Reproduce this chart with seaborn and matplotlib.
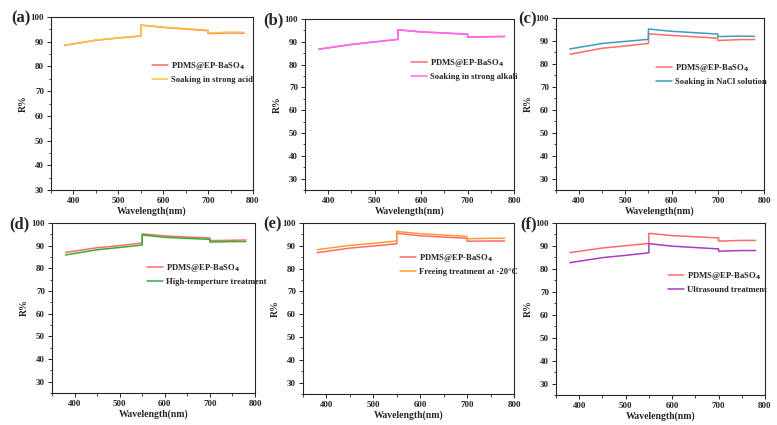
import matplotlib
matplotlib.use('Agg')
import matplotlib.pyplot as plt
from matplotlib.ticker import MultipleLocator
import seaborn as sns
import pandas as pd

# wavelength breakpoints (detector changes at 550 and 700 nm give the jumps)
wavelength = [380, 450, 500, 550, 550, 600, 650, 700, 700, 750, 780]

ref_a = [88.5, 90.6, 91.5, 92.3, 96.7, 95.8, 95.1, 94.5, 93.3, 93.6, 93.5]
acid = [88.6, 90.7, 91.6, 92.4, 96.8, 95.9, 95.3, 94.7, 93.5, 93.9, 93.8]

ref_b = [86.7, 88.8, 89.9, 91.0, 95.3, 94.3, 93.8, 93.3, 92.0, 92.2, 92.3]
alkali = [86.8, 88.9, 90.0, 91.1, 95.2, 94.4, 93.9, 93.4, 92.1, 92.3, 92.4]

ref_c = [84.2, 86.8, 87.8, 88.9, 93.1, 92.4, 91.8, 91.2, 90.2, 90.6, 90.6]
nacl = [86.5, 88.9, 89.8, 90.7, 95.2, 94.2, 93.6, 93.0, 91.9, 92.1, 92.0]

ref_d = [87.0, 89.1, 90.0, 91.2, 95.2, 94.3, 93.8, 93.4, 92.2, 92.4, 92.5]
hot = [85.9, 88.2, 89.2, 90.3, 94.7, 93.7, 93.2, 92.8, 91.6, 91.8, 91.8]

ref_e = [87.0, 89.0, 89.9, 90.9, 95.5, 94.4, 93.8, 93.3, 92.0, 92.1, 92.1]
freeze = [88.3, 90.2, 91.1, 92.1, 96.3, 95.3, 94.7, 94.1, 93.1, 93.3, 93.3]

ref_f = [87.1, 89.1, 90.1, 91.1, 95.5, 94.5, 94.0, 93.5, 92.1, 92.4, 92.4]
ultra = [82.7, 84.9, 85.9, 87.0, 91.0, 89.9, 89.3, 88.7, 87.7, 88.0, 88.0]

ref_label = 'PDMS@EP-BaSO$_4$'

panels = [
    ('(a)', ref_a, acid, 'Soaking in strong acid', '#ffc440', 30),
    ('(b)', ref_b, alkali, 'Soaking in strong alkali', '#ff66ff', 25),
    ('(c)', ref_c, nacl, 'Soaking in NaCl solution', '#3a9fbe', 25),
    ('(d)', ref_d, hot, 'High-temperture treatment', '#33b033', 25),
    ('(e)', ref_e, freeze, 'Freeing treatment at -20\u00b0C', '#ff9c33', 25),
    ('(f)', ref_f, ultra, 'Ultrasound treatment', '#a93cbf', 25),
]

# axes boxes in pixels: left, top, right, bottom
boxes = [
    (51, 17, 253, 190), (305, 19, 514, 190), (556, 18, 764, 190),
    (52, 223, 255, 393), (303, 223, 514, 394), (556, 223, 765, 395),
]
# right end of the panel letters, and upper left corner of each legend (px)
letter_end = [31, 284, 537, 30, 282, 537]
legend_xy = [(152, 60), (411, 57), (656, 62), (147, 262), (400, 252), (668, 270)]

sns.set_style('ticks')
plt.rcParams['font.family'] = ['Liberation Serif', 'DejaVu Serif']
plt.rcParams['font.weight'] = 'bold'

W, H = 777, 425
fig = plt.figure(figsize=(W / 100, H / 100), dpi=100)

for i, (tag, ref, sample, name, color, ymin) in enumerate(panels):
    l, t, r, b = boxes[i]
    ax = fig.add_axes([l / W, 1 - b / H, (r - l) / W, (b - t) / H])
    d = pd.DataFrame({
        'Wavelength': wavelength * 2,
        'R': ref + sample,
        'series': [ref_label] * len(ref) + [name] * len(sample),
    })
    sns.lineplot(data=d, x='Wavelength', y='R', hue='series',
                 palette=['#ff6b6b', color], estimator=None, sort=False,
                 linewidth=1.1, ax=ax)
    ax.set_xlim(350, 800)
    ax.set_ylim(ymin, 100)
    ax.xaxis.set_major_locator(MultipleLocator(100))
    ax.xaxis.set_minor_locator(MultipleLocator(50))
    ax.yaxis.set_major_locator(MultipleLocator(10))
    ax.yaxis.set_minor_locator(MultipleLocator(5))
    ax.tick_params(which='major', labelsize=6.5, length=3, width=0.7, pad=2)
    ax.tick_params(which='minor', length=1.8, width=0.6)
    for lab in ax.get_xticklabels() + ax.get_yticklabels():
        lab.set_fontweight('bold')
    for s in ax.spines.values():
        s.set_linewidth(0.8)
    ax.set_xlabel('Wavelength(nm)', fontsize=7, fontweight='bold', labelpad=1)
    ax.set_ylabel('R%', fontsize=7, fontweight='bold', labelpad=2)
    lx, ly = legend_xy[i]
    ax.legend(loc='upper left', bbox_to_anchor=(lx / W, 1 - ly / H),
              bbox_transform=fig.transFigure, frameon=False,
              handlelength=1.8, handletextpad=0.45, labelspacing=0.5,
              borderpad=0, borderaxespad=0,
              prop={'weight': 'bold', 'size': 6.2})
    fig.text(letter_end[i] / W, 1 - (t + 1) / H, tag, fontsize=12,
             fontweight='bold', ha='right', va='center')

fig.savefig('out.png', dpi=100)
